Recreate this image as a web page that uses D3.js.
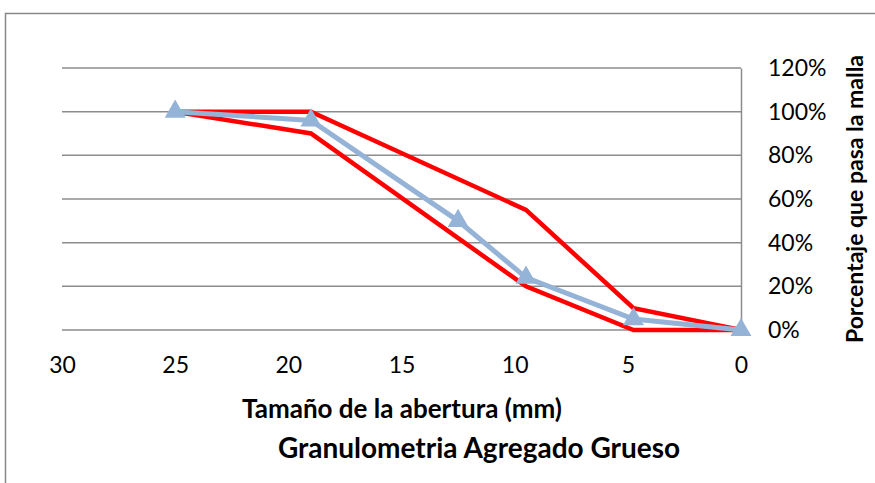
<!DOCTYPE html>
<html><head><meta charset="utf-8">
<script src="https://cdn.jsdelivr.net/npm/d3@7"></script>
<style>body{margin:0;background:#fff}svg{display:block}text{font-family:Lato,"Open Sans",sans-serif}</style>
</head><body><svg id="c" width="875" height="483"></svg>
<script>
const sizes = [25, 19, 9.5, 4.75, 0];
const upperLimit = [1.00, 1.00, 0.55, 0.10, 0];
const lowerLimit = [1.00, 0.90, 0.20, 0.00, 0];
const sampleSizes = [25, 19, 12.5, 9.5, 4.75, 0];
const samplePass = [1.00, 0.96, 0.50, 0.24, 0.05, 0];
const xTicks = [30, 25, 20, 15, 10, 5, 0];
const yTicks = [0, 0.2, 0.4, 0.6, 0.8, 1.0, 1.2];

const svg = d3.select('#c');
const x = d3.scaleLinear().domain([30, 0]).range([62, 741]);
const y = d3.scaleLinear().domain([0, 1.2]).range([330, 68]);

// frame
svg.append('path').attr('d','M5.5,483 V13.5 H875').attr('fill','none').attr('stroke','#888').attr('stroke-width',1.5);

// gridlines
svg.append('g').selectAll('line').data(yTicks).join('line')
  .attr('x1', 62).attr('x2', 741).attr('y1', d => y(d)).attr('y2', d => y(d))
  .attr('stroke', '#8c8c8c').attr('stroke-width', 1.5);

// right axis
const ya = svg.append('g').attr('transform','translate(741,0)')
  .call(d3.axisRight(y).tickValues(yTicks).tickSize(0).tickPadding(27).tickFormat(d3.format('.0%')));
ya.select('.domain').attr('stroke','#8c8c8c').attr('stroke-width',1.5);
ya.selectAll('text').attr('font-size',23).attr('fill','#000');

// bottom tick labels
const xa = svg.append('g').attr('transform','translate(0,330)')
  .call(d3.axisBottom(x).tickValues(xTicks).tickSize(0).tickPadding(27));
xa.select('.domain').remove();
xa.selectAll('text').attr('font-size',23).attr('fill','#000');

const line = d3.line();
function series(xs, ys, color, w){
  svg.append('path').datum(xs.map((v,i)=>[x(v), y(ys[i])]))
    .attr('d', line).attr('fill','none').attr('stroke',color).attr('stroke-width',w).attr('stroke-linejoin','miter');
}
series(sizes, upperLimit, '#ff0000', 4.5);
series(sizes, lowerLimit, '#ff0000', 4.5);
series(sampleSizes, samplePass, '#95b3d7', 5);

const tri = d3.symbol().type(d3.symbolTriangle).size(190);
svg.append('g').selectAll('path').data(sampleSizes.map((v,i)=>[x(v), y(samplePass[i])])).join('path')
  .attr('d', tri).attr('transform', d => `translate(${d[0]},${d[1]})`).attr('fill','#95b3d7');

svg.append('text').attr('x', 402).attr('y', 418).attr('text-anchor','middle')
  .attr('font-size',26).attr('font-weight','bold').text('Tamaño de la abertura (mm)');
svg.append('text').attr('transform','translate(863,199) rotate(-90)').attr('text-anchor','middle')
  .attr('font-size',23).attr('font-weight','bold').text('Porcentaje que pasa la malla');
svg.append('text').attr('x', 479).attr('y', 458).attr('text-anchor','middle')
  .attr('font-size',28).attr('font-weight','bold').text('Granulometria Agregado Grueso');
</script></body></html>
